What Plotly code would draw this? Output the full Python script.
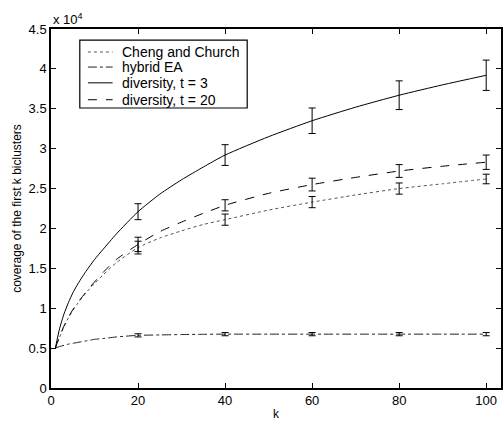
import plotly.graph_objects as go

# curve sample points (k) and values in units of 1e4
k_curve = [1, 2, 3, 4, 5, 6, 8, 10, 12, 15, 20, 25, 30, 35, 40, 50, 60, 70, 80, 90, 100]
cheng = [0.50, 0.64, 0.77, 0.88, 0.97, 1.05, 1.19, 1.31, 1.42, 1.57, 1.76, 1.88, 1.97, 2.05, 2.11,
         2.23, 2.33, 2.42, 2.50, 2.56, 2.62]
hybrid = [0.50, 0.52, 0.535, 0.55, 0.56, 0.57, 0.59, 0.61, 0.62, 0.64, 0.66, 0.665, 0.67, 0.673, 0.675,
          0.675, 0.675, 0.675, 0.675, 0.675, 0.675]
div_t3 = [0.50, 0.75, 0.93, 1.07, 1.19, 1.29, 1.46, 1.61, 1.74, 1.93, 2.21, 2.43, 2.61, 2.77, 2.92,
          3.15, 3.35, 3.52, 3.67, 3.80, 3.92]
div_t20 = [0.50, 0.65, 0.78, 0.89, 0.98, 1.06, 1.20, 1.33, 1.45, 1.61, 1.80, 1.96, 2.08, 2.19, 2.29,
           2.44, 2.55, 2.64, 2.72, 2.78, 2.83]

# error bar positions, means and half-widths (units of 1e4)
k_err = [20, 40, 60, 80, 100]
cheng_m = [1.76, 2.11, 2.33, 2.50, 2.62]
cheng_e = [0.08, 0.07, 0.07, 0.07, 0.06]
hybrid_m = [0.66, 0.675, 0.675, 0.675, 0.675]
hybrid_e = [0.02, 0.02, 0.02, 0.02, 0.02]
t3_m = [2.21, 2.92, 3.35, 3.67, 3.92]
t3_e = [0.10, 0.13, 0.16, 0.18, 0.19]
t20_m = [1.80, 2.29, 2.55, 2.72, 2.83]
t20_e = [0.09, 0.07, 0.08, 0.08, 0.09]

names = ["Cheng and Church", "hybrid EA", "diversity, t = 3", "diversity, t = 20"]
curves = [cheng, hybrid, div_t3, div_t20]
means = [cheng_m, hybrid_m, t3_m, t20_m]
errs = [cheng_e, hybrid_e, t3_e, t20_e]
dashes = ["dot", "dashdot", "solid", "dash"]
colors = ["#555555", "#222222", "#000000", "#000000"]

fig = go.Figure()
for name, y, d, c in zip(names, curves, dashes, colors):
    fig.add_trace(go.Scatter(x=k_curve, y=y, mode="lines", name=name, showlegend=False,
                             line=dict(color=c, dash=d, width=1, shape="spline", smoothing=0.6)))
for m, e in zip(means, errs):
    fig.add_trace(go.Scatter(x=k_err, y=m, mode="markers", showlegend=False,
                             marker=dict(size=1, opacity=0),
                             error_y=dict(type="data", array=e, color="black", thickness=1, width=3.5)))

# hand-drawn legend box (paper coordinates)
shapes = [dict(type="rect", xref="paper", yref="paper", x0=0.064, x1=0.436, y0=0.780, y1=0.969,
               line=dict(color="black", width=1.2), fillcolor="white", layer="above")]
annotations = []
row_y = [0.936, 0.894, 0.850, 0.803]
for name, d, c, ry in zip(names, dashes, colors, row_y):
    shapes.append(dict(type="line", xref="paper", yref="paper", x0=0.082, x1=0.137, y0=ry, y1=ry,
                       line=dict(color=c, dash=d, width=1), layer="above"))
    annotations.append(dict(text=name, x=0.153, y=ry, xref="paper", yref="paper",
                            xanchor="left", yanchor="middle", showarrow=False,
                            font=dict(size=14)))

annotations.append(dict(text="x 10<sup>4</sup>", x=0, y=1, xref="paper", yref="paper",
                        xanchor="left", yanchor="bottom", showarrow=False,
                        font=dict(size=13)))

font = "Liberation Sans, Arial, Helvetica, sans-serif"
fig.update_layout(
    width=503, height=422,
    margin=dict(l=51, r=0, t=29, b=34),
    paper_bgcolor="white", plot_bgcolor="white",
    font=dict(family=font, size=13, color="black"),
    showlegend=False,
    shapes=shapes,
    annotations=annotations,
    xaxis=dict(range=[0, 103.4], tickvals=[0, 20, 40, 60, 80, 100],
               ticks="inside", ticklen=5, tickcolor="black",
               showline=True, linecolor="black", linewidth=1.5, mirror="ticks",
               showgrid=False, zeroline=False,
               title=dict(text="k", font=dict(size=12), standoff=2),
               tickfont=dict(size=13)),
    yaxis=dict(range=[0, 4.5], dtick=0.5, tick0=0,
               ticks="inside", ticklen=5, tickcolor="black",
               showline=True, linecolor="black", linewidth=1.5, mirror="ticks",
               showgrid=False, zeroline=False,
               title=dict(text="coverage of the first k biclusters", font=dict(size=12), standoff=4),
               tickfont=dict(size=13)),
)
fig.write_html("out.html")
